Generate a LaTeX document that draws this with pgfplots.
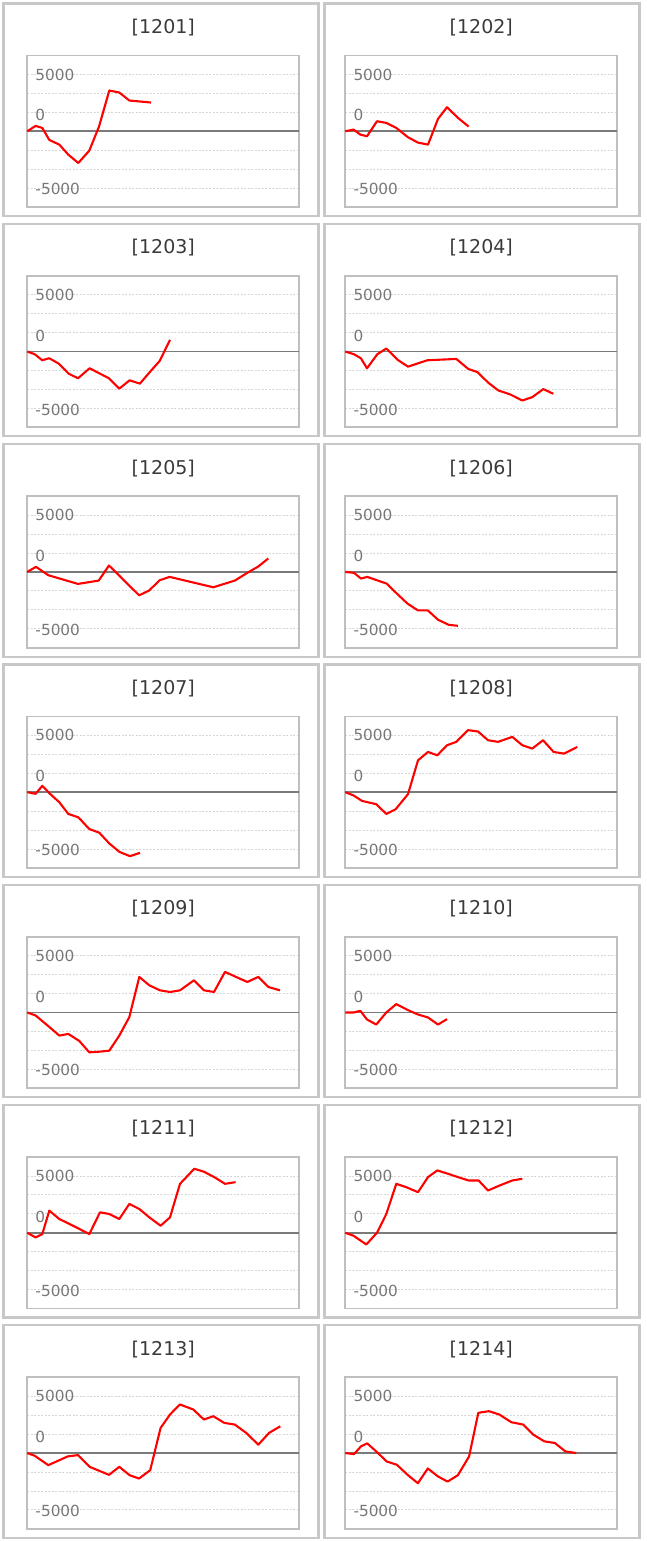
\documentclass[border=0pt]{standalone}
\usepackage{fontspec}
\setmainfont{DejaVu Sans}
\usepackage{pgfplots}
\pgfplotsset{compat=1.18}
\definecolor{boxgray}{HTML}{C8C8C8}
\definecolor{framegray}{HTML}{BFBFBF}
\definecolor{gridgray}{HTML}{D6D6D6}
\definecolor{zerogray}{HTML}{7A7A7A}
\definecolor{ticktext}{HTML}{777777}
\definecolor{titletext}{HTML}{3A3A3A}
\pgfplotsset{panel/.style={
  scale only axis, width=272pt, height=151.5pt,
  xmin=0, xmax=27.2, ymin=-6666.67, ymax=6666.67,
  xtick=\empty,
  ytick={-5100,1400,5000}, yticklabels={-5000,0,5000},
  minor ytick={-5000,-3333.33,-1666.67,1666.67,3333.33,5000},
  ymajorgrids=false, yminorgrids=true,
  minor grid style={gridgray, line width=0.8pt, dash pattern=on 2pt off 1.5pt},
  extra y ticks={0}, extra y tick labels={},
  extra y tick style={ymajorgrids=true, major grid style={zerogray, line width=1.8pt, solid}},
  major tick length=0pt, minor tick length=0pt,
  axis line style={framegray, line width=1.8pt},
  yticklabel style={anchor=west, xshift=8pt, inner sep=0pt, font=\fontsize{15.3}{18}\selectfont, text=ticktext},
  /pgf/number format/assume math mode=true,
  every axis title shift=0pt,
  title style={at={(0.5,1)}, anchor=center, yshift=28pt, font=\fontsize{19}{22}\selectfont, text=titletext},
  clip=false,
}}
\newcommand{\panel}[5]{%
  \pgfmathsetmacro\ay{-(#3+52)}%
  \pgfmathsetmacro\by{-#3}%
  \draw[boxgray, line width=2.2pt] (#1pt,\by pt) rectangle ++(315pt,-212.5pt);
  \begin{axis}[panel, at={(#2pt,\ay pt)}, anchor=north west, title={#4}]
  \addplot[red, line width=2.1pt, line join=round] coordinates {#5};
  \end{axis}
}
\begin{document}
\begin{tikzpicture}
\path[use as bounding box] (0pt,0pt) rectangle (646pt,-1541pt);
\panel{3.5}{27.3}{3.5}{[1201]}{(0,0)(0.83,470)(1.5,294)(2.2,-764)(3.2,-1176)(4.1,-2058)(5.1,-2793)(6.2,-1705)(7.17,411)(8.2,3587)(9.2,3410)(10.2,2705)(12.37,2528)}
\panel{324.5}{345.3}{3.5}{[1202]}{(0,0)(0.83,147)(1.5,-294)(2.17,-441)(3.17,882)(4.1,735)(5.1,294)(6.27,-529)(7.27,-1000)(8.27,-1176)(9.27,1088)(10.17,2117)(11.27,1176)(12.33,412)}
\panel{3.5}{27.3}{223.8}{[1203]}{(0,0)(0.74,-235)(1.49,-765)(2.19,-588)(3.14,-1059)(4.13,-1941)(5.07,-2353)(6.23,-1471)(7.26,-1941)(8.17,-2353)(9.2,-3265)(10.23,-2529)(11.26,-2824)(12.29,-1765)(13.24,-824)(14.27,1030)}
\panel{324.5}{345.3}{223.8}{[1204]}{(0,0)(0.86,-236)(1.56,-590)(2.17,-1475)(3.2,-236)(4.1,265)(5.25,-737)(6.27,-1327)(8.2,-767)(11.1,-649)(12.3,-1534)(13.2,-1800)(14.3,-2743)(15.3,-3422)(16.5,-3776)(17.7,-4307)(18.7,-4012)(19.8,-3304)(20.8,-3717)}
\panel{3.5}{27.3}{444.1}{[1205]}{(0,0)(0.87,442)(2.1,-295)(5.07,-1062)(7.14,-767)(8.17,560)(11.18,-2065)(12.17,-1652)(13.24,-737)(14.23,-442)(18.6,-1357)(20.75,-767)(22.0,-88)(23.1,472)(24.1,1180)}
\panel{324.5}{345.3}{444.1}{[1206]}{(0,0)(0.87,-88)(1.57,-590)(2.19,-442)(4.13,-1032)(5.16,-1917)(6.23,-2802)(7.26,-3392)(8.25,-3392)(9.28,-4218)(10.35,-4661)(11.26,-4750)}
\panel{3.5}{27.3}{664.4}{[1207]}{(0,0)(0.83,-147)(1.5,560)(2.27,-147)(3.2,-885)(4.1,-1917)(5.1,-2212)(6.2,-3245)(7.2,-3569)(8.2,-4513)(9.2,-5251)(10.27,-5634)(11.27,-5339)}
\panel{324.5}{345.3}{664.4}{[1208]}{(0,0)(0.83,-295)(1.67,-767)(3.1,-1062)(4.1,-1917)(5.03,-1504)(6.27,-177)(7.27,2802)(8.27,3540)(9.2,3245)(10.17,4130)(11.1,4425)(12.27,5457)(13.27,5339)(14.27,4572)(15.27,4425)(16.7,4867)(17.7,4130)(18.7,3835)(19.77,4572)(20.83,3540)(21.87,3392)(23.2,3982)}
\panel{3.5}{27.3}{884.7}{[1209]}{(0,0)(0.83,-265)(2.27,-1327)(3.2,-2035)(4.1,-1888)(5.2,-2507)(6.2,-3510)(7.2,-3451)(8.2,-3363)(9.2,-2035)(10.2,-413)(11.2,3127)(12.2,2389)(13.27,1947)(14.27,1800)(15.27,1947)(16.67,2832)(17.67,1947)(18.67,1800)(19.77,3570)(20.87,3127)(22.0,2684)(23.1,3127)(24.1,2242)(25.27,1947)}
\panel{324.5}{345.3}{884.7}{[1210]}{(0,0)(0.83,0)(1.5,147)(2.17,-620)(3.1,-1062)(4.1,0)(5.1,737)(6.27,206)(7.27,-177)(8.27,-442)(9.27,-1062)(10.17,-590)}
\panel{3.5}{27.3}{1105}{[1211]}{(0,0)(0.83,-413)(1.5,-118)(2.2,1947)(3.2,1210)(4.1,826)(5.1,383)(6.2,-118)(7.27,1800)(8.2,1652)(9.2,1210)(10.2,2537)(11.2,2094)(12.2,1357)(13.33,620)(14.27,1357)(15.27,4307)(16.7,5634)(17.67,5369)(18.7,4897)(19.77,4307)(20.83,4455)}
\panel{324.5}{345.3}{1105}{[1212]}{(0,0)(0.83,-265)(2.1,-1032)(3.17,0)(4.1,1652)(5.1,4307)(6.1,4012)(7.27,3570)(8.27,4897)(9.2,5487)(10.27,5192)(11.27,4897)(12.33,4602)(13.33,4602)(14.27,3717)(15.43,4160)(16.7,4602)(17.7,4750)}
\panel{3.5}{27.3}{1325.3}{[1213]}{(0,0)(0.74,-236)(2.1,-1062)(4.04,-295)(5.07,-177)(6.23,-1209)(8.17,-1917)(9.2,-1209)(10.23,-1947)(11.18,-2242)(12.29,-1504)(13.33,2212)(14.27,3392)(15.26,4277)(16.6,3835)(17.66,2950)(18.6,3245)(19.7,2655)(20.75,2507)(21.9,1770)(23.1,737)(24.17,1770)(25.3,2360)}
\panel{324.5}{345.3}{1325.3}{[1214]}{(0,0)(0.87,-88)(1.57,590)(2.19,855)(3.2,59)(4.13,-737)(5.16,-1032)(6.23,-1917)(7.26,-2655)(8.25,-1357)(9.28,-2065)(10.23,-2507)(11.26,-1947)(12.38,-295)(13.3,3540)(14.36,3687)(15.4,3392)(16.6,2714)(17.8,2507)(18.8,1622)(19.9,1032)(20.96,885)(22.0,147)(23.1,0)}
\end{tikzpicture}
\end{document}
